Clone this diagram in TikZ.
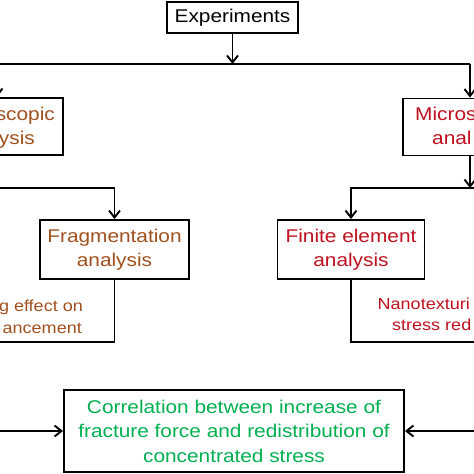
\documentclass[tikz,border=0pt]{standalone}
\usepackage{fontspec}
\setmainfont[FakeStretch=1.13]{Liberation Sans}
\usetikzlibrary{arrows.meta, positioning}
\definecolor{RustBrown}{HTML}{A0501E}
\definecolor{CrimsonRed}{HTML}{C0101E}
\definecolor{LeafGreen}{HTML}{00B050}
\tikzset{
  flowbox/.style={draw, line width=1.9bp, align=center, inner sep=0pt},
  flowline/.style={line width=1.9bp},
  flowarrow/.style={line width=1.9bp, -{Straight Barb[length=7bp, width=11bp, line width=1.9bp]}},
  cuttext/.style={inner sep=0pt, font=\fontsize{16}{21}\selectfont}
}

\begin{document}
\begin{tikzpicture}[x=1bp, y=-1bp, font=\fontsize{18.5}{24.5}\selectfont]
  \useasboundingbox (0,0) rectangle (474,474);
  \clip (0,0) rectangle (474,474);

  % boxes
  \node[flowbox, minimum width=131bp, minimum height=31bp] (experiments) at (232.5,17.5) {Experiments};
  \node[flowbox, minimum width=160bp, minimum height=57bp] (macro) at (-17,126.5) {};
  \node[flowbox, minimum width=160bp, minimum height=57bp] (micro) at (483,127) {};
  \node[flowbox, minimum width=149bp, minimum height=59bp, text=RustBrown] (fragment) at (114.5,249.5) {Fragmentation\\analysis};
  \node[flowbox, minimum width=147bp, minimum height=59bp, text=CrimsonRed] (finite) at (351,249.5) {Finite element\\analysis};
  \node[flowbox, minimum width=340bp, minimum height=82bp, text=LeafGreen] (result) at (234,431) {Correlation between increase of\\fracture force and redistribution of\\concentrated stress};

  % texts cut by the frame
  \node[inner sep=0pt, anchor=base east, text=RustBrown] (macroa) at (55,121) {scopic};
  \node[inner sep=0pt, anchor=base east, text=RustBrown] (macrob) at (35,145) {ysis};
  \node[inner sep=0pt, anchor=base west, text=CrimsonRed] (microa) at (415,121) {Micros};
  \node[inner sep=0pt, anchor=base west, text=CrimsonRed] (microb) at (432,145) {anal};
  \node[cuttext, anchor=base east, text=RustBrown] (effecta) at (83,311.5) {g effect on};
  \node[cuttext, anchor=base east, text=RustBrown] (effectb) at (82,333) {ancement};
  \node[cuttext, anchor=base west, text=CrimsonRed] (nanoa) at (377.5,309.5) {Nanotexturi};
  \node[cuttext, anchor=base west, text=CrimsonRed] (nanob) at (392,330.5) {stress red};

  % free ends
  \coordinate (splitleft) at (-3,64);
  \coordinate (splitright) at (470,64);
  \coordinate (leftbranch) at (-10,188);
  \coordinate (rightjoin) at (470,188);
  \coordinate (rightbranch) at (480,188);
  \coordinate (effectend) at (-10,342);
  \coordinate (nanoend) at (480,342);
  \coordinate (leftin) at (-10,431);
  \coordinate (rightin) at (480,431);

  % connectors
  \draw[flowarrow] (experiments.south) -- (experiments.south |- splitright);
  \draw[flowline] (splitleft) -- (splitright);
  \draw[flowarrow] (splitleft) -- (splitleft |- macro.north);
  \draw[flowarrow] (splitright) -- (splitright |- micro.north);
  \draw[flowarrow] (splitright |- micro.south) -- (rightjoin);
  \draw[flowarrow] (leftbranch) -| (fragment.north);
  \draw[flowarrow] (rightbranch) -| (finite.north);
  \draw[flowline] (fragment.south) |- (effectend);
  \draw[flowline] (finite.south) |- (nanoend);
  \draw[flowarrow] (leftin) -- (result);
  \draw[flowarrow] (rightin) -- (result);
\end{tikzpicture}
\end{document}
